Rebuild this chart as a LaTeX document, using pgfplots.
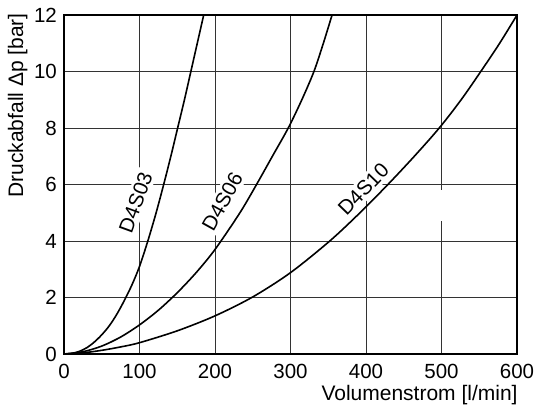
\documentclass[border=0pt]{standalone}
\usepackage{pgfplots}
\pgfplotsset{compat=1.18}
\usepackage{fontspec}
\setmainfont{Liberation Sans}
\begin{document}
\fontsize{21}{24}\selectfont
\begin{tikzpicture}
\begin{axis}[
  width=453pt, height=339pt, scale only axis,
  xmin=0, xmax=600, ymin=0, ymax=12,
  xtick={0,100,...,600}, ytick={0,2,...,12},
  grid=major,
  major grid style={line width=0.9pt, black!80},
  axis line style={line width=1.3pt},
  major tick length=0pt,
  clip=false,
  /pgf/number format/assume math mode=true,
  ticklabel style={font=\fontsize{20.5}{24}\selectfont, inner sep=0pt},
  xticklabel style={anchor=north, yshift=-10pt},
  yticklabel style={anchor=east, xshift=-7pt},
]
% white gaps in the grid
\fill[white] (axis cs:495,4.72) rectangle (axis cs:505,5.8);
\node[rotate=70, fill=white, inner sep=3pt, font=\fontsize{20.5}{24}\selectfont] at (axis cs:95,5.36) {D4S03};
\node[rotate=61, fill=white, inner sep=3pt, font=\fontsize{20.5}{24}\selectfont] at (axis cs:209.7,5.39) {D4S06};
\node[rotate=46, fill=white, inner sep=3pt, font=\fontsize{20.5}{24}\selectfont] at (axis cs:396.5,5.83) {D4S10};

\addplot[black, line width=1.6pt, smooth] coordinates {
(0,0) (10,0.02) (20,0.09) (30,0.22) (40,0.42) (50,0.68) (60,1.0) (70,1.41) (80,1.9) (90,2.45) (100,3.1) (111,4) (122,5) (132,6) (141.5,7) (150.5,8) (159.5,9) (168,10) (176.5,11) (185,12)};
\addplot[black, line width=1.6pt, smooth] coordinates {
(0,0) (25,0.08) (50,0.28) (75,0.6) (100,1.03) (125,1.55) (150,2.17) (175,2.88) (200,3.7) (233,5) (255,6) (276,7) (297,8) (315,9) (331,10) (343.5,11) (355,12)};
\addplot[black, line width=1.6pt, smooth] coordinates {
(0,0) (25,0.04) (50,0.13) (75,0.25) (100,0.4) (150,0.82) (200,1.35) (250,2.02) (300,2.88) (352,4) (392,5) (429,6) (464,7) (497,8) (526,9) (552,10) (577,11) (600,12)};

\node[rotate=90, anchor=south east, inner sep=0pt] at (axis cs:-48,12.07) {Druckabfall Δp [bar]};
\node[anchor=base east, inner sep=0pt] at (axis cs:601,-1.63) {Volumenstrom [l/min]};
\coordinate (bl) at (axis cs:-84.8,-2.05);
\coordinate (tr) at (axis cs:629.1,12.53);
\end{axis}
\pgfresetboundingbox
\useasboundingbox (bl) rectangle (tr);
\end{tikzpicture}
\end{document}
